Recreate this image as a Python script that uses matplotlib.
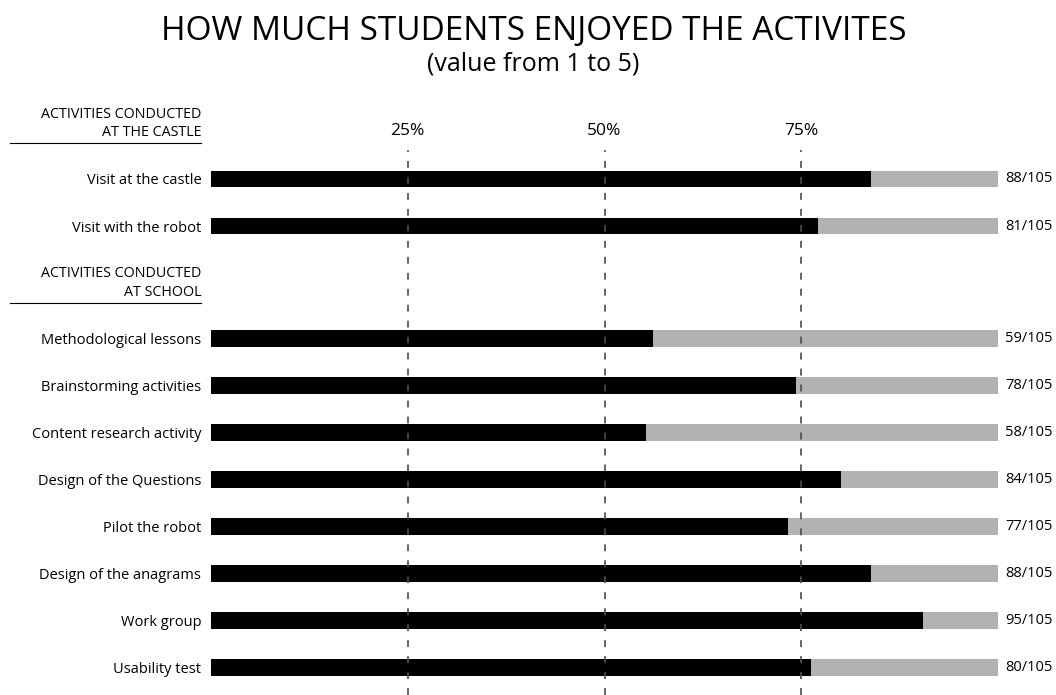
import matplotlib.pyplot as plt
import matplotlib.transforms as mtransforms

plt.rcParams['font.family'] = ['Open Sans', 'DejaVu Sans']
plt.rcParams['lines.scale_dashes'] = False

# data
castle_activities = ['Visit at the castle', 'Visit with the robot']
castle_scores = [88, 81]
school_activities = ['Methodological lessons', 'Brainstorming activities',
                     'Content research activity', 'Design of the Questions',
                     'Pilot the robot', 'Design of the anagrams',
                     'Work group', 'Usability test']
school_scores = [59, 78, 58, 84, 77, 88, 95, 80]
max_score = 105
group_titles = ['ACTIVITIES CONDUCTED\nAT THE CASTLE',
                'ACTIVITIES CONDUCTED\nAT SCHOOL']
pct_ticks = [25, 50, 75]

W, H = 1056, 695
fig = plt.figure(figsize=(W / 100, H / 100), dpi=100)

# axes from x=211..998 px, y=150..695 px
ax = fig.add_axes([211 / W, 0, 787 / W, (H - 150) / H])

gap = 2.4
castle_y = list(range(len(castle_activities)))
school_start = castle_y[-1] + gap
school_y = [school_start + i for i in range(len(school_activities))]

labels = castle_activities + school_activities
scores = castle_scores + school_scores
ypos = castle_y + school_y

bar_h = 0.36
ax.barh(ypos, [max_score] * len(ypos), height=bar_h, color='#b2b2b2', zorder=1)
ax.barh(ypos, scores, height=bar_h, color='black', zorder=2)

for p in pct_ticks:
    x = max_score * p / 100
    ax.axvline(x, color='#4d4d4d', lw=1.2, dashes=(5, 6.5), zorder=3)
    ax.text(x, -1.02, f'{p}%', ha='center', va='center', fontsize=12.5)

for y, s in zip(ypos, scores):
    ax.annotate(f'{s}/{max_score}', (max_score, y), xytext=(5, 0),
                textcoords='offset points', ha='left', va='center',
                fontsize=10.5, annotation_clip=False)

ax.set_xlim(0, max_score)
ax.set_ylim((H - 179) / 47, -(179 - 150) / 47)
ax.set_yticks(ypos)
ax.set_yticklabels(labels, fontsize=10.5)
ax.tick_params(axis='y', length=0, pad=7)
ax.set_xticks([])
for sp in ax.spines.values():
    sp.set_visible(False)

# group headers
blend = mtransforms.blended_transform_factory(ax.transAxes, ax.transData)
for title, first in zip(group_titles, [castle_y[0], school_y[0]]):
    ax.text(-10 / 787, first - 1.18, title, transform=blend, ha='right',
            va='center', fontsize=10.3, linespacing=1.35, clip_on=False)
    ax.plot([-201 / 787, -10 / 787], [first - 0.77, first - 0.77],
            transform=blend, color='black', lw=0.8, clip_on=False)

fig.text(0.505, 1 - 32 / H, 'HOW MUCH STUDENTS ENJOYED THE ACTIVITES',
         ha='center', va='center', fontsize=24)
fig.text(0.505, 1 - 64 / H, '(value from 1 to 5)', ha='center',
         va='center', fontsize=18)

fig.savefig('out.png', dpi=100)
